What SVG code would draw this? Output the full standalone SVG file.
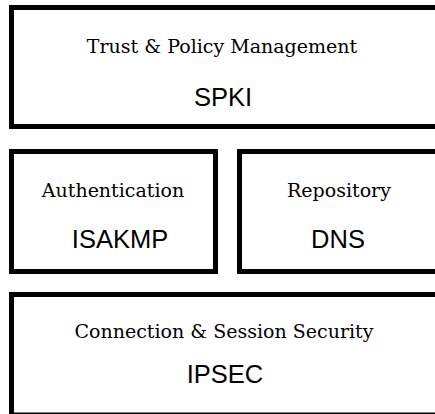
<svg xmlns="http://www.w3.org/2000/svg" width="435" height="414" viewBox="0 0 435 414">
  <style>
    .box { fill: #ffffff; stroke: #000000; stroke-width: 5; }
    .title { font-family: "DejaVu Serif", "Liberation Serif", serif; font-size: 19px; fill: #000000; text-anchor: middle; }
    .proto { font-family: "Liberation Sans", Arial, sans-serif; font-size: 25.5px; fill: #000000; text-anchor: middle; }
  </style>
  <rect width="435" height="414" fill="#ffffff"/>
  <g id="connectors"></g>
  <g id="trust-policy">
    <rect class="box" x="11.5" y="7.5" width="440" height="119"/>
    <text class="title" x="222" y="53">Trust &amp; Policy Management</text>
    <text class="proto" x="223" y="106">SPKI</text>
  </g>
  <g id="authentication">
    <rect class="box" x="11.5" y="151.5" width="204" height="120"/>
    <text class="title" x="113" y="197">Authentication</text>
    <text class="proto" x="120" y="248">ISAKMP</text>
  </g>
  <g id="repository">
    <rect class="box" x="239.5" y="151.5" width="210" height="120"/>
    <text class="title" x="339" y="197">Repository</text>
    <text class="proto" x="338" y="248">DNS</text>
  </g>
  <g id="connection-session">
    <rect class="box" x="11.5" y="294.5" width="440" height="120.5"/>
    <text class="title" x="224" y="338">Connection &amp; Session Security</text>
    <text class="proto" x="225" y="383">IPSEC</text>
  </g>
</svg>
